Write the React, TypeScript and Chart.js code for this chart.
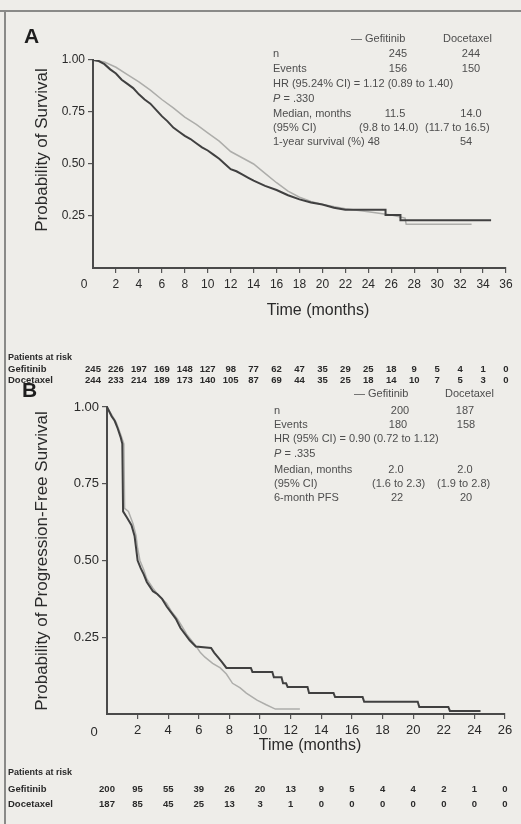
import React, { useEffect, useRef } from "react";
import { Chart, registerables } from "chart.js";
Chart.register(...registerables);

// ---------- Panel A: overall survival ----------
const OS_TICKS = [0, 2, 4, 6, 8, 10, 12, 14, 16, 18, 20, 22, 24, 26, 28, 30, 32, 34, 36];
const OS_GEF_T = [0, 0.5, 1.0, 1.5, 2.0, 2.5, 3.0, 3.5, 4.0, 4.5, 5.0, 5.5, 6.0, 6.5, 7.0, 7.5, 8.0, 8.5, 9.0, 9.5, 10.0, 10.5, 11.0, 11.5, 12.0, 12.5, 13.0, 13.5, 14.0, 15.0, 16.0, 17.0, 18.0, 19.0, 20.0, 21.0, 22.0, 25.5, 25.5, 26.8, 26.8, 34.7];
const OS_GEF_S = [1.0, 0.995, 0.98, 0.955, 0.935, 0.905, 0.885, 0.865, 0.835, 0.81, 0.79, 0.76, 0.73, 0.705, 0.675, 0.655, 0.635, 0.62, 0.6, 0.58, 0.565, 0.545, 0.525, 0.5, 0.475, 0.465, 0.45, 0.435, 0.42, 0.395, 0.375, 0.35, 0.33, 0.315, 0.305, 0.29, 0.28, 0.28, 0.255, 0.255, 0.23, 0.23];
const OS_DOC_T = [0, 1.0, 2.0, 3.0, 4.0, 5.0, 6.0, 7.0, 8.0, 9.0, 10.0, 11.0, 12.0, 13.0, 14.0, 15.0, 16.0, 17.0, 18.0, 19.0, 20.0, 22.0, 24.0, 26.0, 27.2, 27.3, 33.0];
const OS_DOC_S = [1.0, 0.99, 0.965, 0.93, 0.895, 0.855, 0.81, 0.77, 0.725, 0.69, 0.65, 0.61, 0.56, 0.53, 0.5, 0.455, 0.41, 0.37, 0.34, 0.32, 0.305, 0.285, 0.27, 0.255, 0.24, 0.21, 0.21];
const OS_RISK_GEF = [245, 226, 197, 169, 148, 127, 98, 77, 62, 47, 35, 29, 25, 18, 9, 5, 4, 1, 0];
const OS_RISK_DOC = [244, 233, 214, 189, 173, 140, 105, 87, 69, 44, 35, 25, 18, 14, 10, 7, 5, 3, 0];

// ---------- Panel B: progression-free survival ----------
const PFS_TICKS = [0, 2, 4, 6, 8, 10, 12, 14, 16, 18, 20, 22, 24, 26];
const PFS_GEF_T = [0, 0.3, 0.5, 0.7, 0.9, 1.0, 1.05, 1.3, 1.6, 1.8, 1.9, 2.0, 2.2, 2.4, 2.6, 2.8, 3.0, 3.3, 3.6, 3.9, 4.2, 4.5, 4.8, 5.1, 5.4, 5.8, 6.8, 7.0, 7.5, 7.8, 9.4, 9.5, 10.8, 10.9, 11.4, 11.5, 11.7, 11.8, 13.1, 13.2, 14.8, 14.9, 16.7, 16.8, 20.3, 20.4, 22.3, 22.4, 24.4];
const PFS_GEF_S = [1.0, 0.97, 0.955, 0.93, 0.9, 0.88, 0.66, 0.64, 0.615, 0.58, 0.54, 0.5, 0.475, 0.455, 0.43, 0.415, 0.4, 0.39, 0.375, 0.35, 0.33, 0.31, 0.28, 0.26, 0.24, 0.22, 0.215, 0.2, 0.17, 0.15, 0.15, 0.137, 0.137, 0.12, 0.12, 0.1, 0.1, 0.088, 0.088, 0.068, 0.068, 0.055, 0.055, 0.04, 0.04, 0.023, 0.023, 0.01, 0.01];
const PFS_DOC_T = [0, 0.3, 0.6, 0.9, 1.1, 1.15, 1.4, 1.7, 1.9, 2.0, 2.15, 2.4, 2.6, 3.0, 3.3, 3.6, 3.9, 4.2, 4.6, 4.9, 5.2, 5.6, 5.9, 6.1, 6.4, 6.9, 7.4, 7.8, 8.2, 8.7, 9.1, 9.8, 10.4, 11.0, 12.6];
const PFS_DOC_S = [1.0, 0.975, 0.95, 0.91, 0.88, 0.67, 0.66, 0.62, 0.58, 0.54, 0.5, 0.47, 0.44, 0.41, 0.39, 0.375, 0.36, 0.335, 0.31, 0.285, 0.26, 0.235, 0.215, 0.2, 0.185, 0.165, 0.15, 0.13, 0.1, 0.085, 0.068, 0.045, 0.03, 0.016, 0.016];
const PFS_RISK_GEF = [200, 95, 55, 39, 26, 20, 13, 9, 5, 4, 4, 2, 1, 0];
const PFS_RISK_DOC = [187, 85, 45, 25, 13, 3, 1, 0, 0, 0, 0, 0, 0, 0];

const SANS = '"Liberation Sans", Arial, Helvetica, sans-serif';
const NARROW = '"Liberation Sans Narrow", "Liberation Sans", Arial, sans-serif';
const BG = "#eeede9";
const DARK = "#404040";
const LIGHT = "#adadaa";

function pts(t: number[], s: number[]) {
  return t.map((x, i) => ({ x, y: s[i] }));
}

type PanelCfg = {
  padding: { left: number; right: number; top: number; bottom: number };
  xMax: number;
  ticks: number[];
  gef: { x: number; y: number }[];
  doc: { x: number; y: number }[];
  riskGef: number[];
  riskDoc: number[];
  riskY: [number, number];
  tickFont: number;
  yLabelW: number;
  xLabelH: number;
};

function makeChart(canvas: HTMLCanvasElement, c: PanelCfg) {
  const riskPlugin = {
    id: "riskTable",
    afterDraw(chart: any) {
      const ctx = chart.ctx;
      const xs = chart.scales.x;
      ctx.save();
      ctx.fillStyle = "#2a2a2a";
      ctx.font = `bold 9.5px ${NARROW}`;
      ctx.textAlign = "center";
      ctx.textBaseline = "middle";
      c.ticks.forEach((t, i) => {
        const px = xs.getPixelForValue(t);
        ctx.fillText(String(c.riskGef[i]), px, c.riskY[0]);
        ctx.fillText(String(c.riskDoc[i]), px, c.riskY[1]);
      });
      ctx.restore();
    },
  };
  const tickColor = (ctx: any) => (ctx.tick && ctx.tick.value === 0 ? "rgba(0,0,0,0)" : "#555");
  return new Chart(canvas, {
    type: "line",
    data: {
      datasets: [
        { label: "Gefitinib", data: c.gef, borderColor: DARK, borderWidth: 2, pointRadius: 0, fill: false, tension: 0 },
        { label: "Docetaxel", data: c.doc, borderColor: LIGHT, borderWidth: 1.5, pointRadius: 0, fill: false, tension: 0 },
      ],
    },
    options: {
      animation: false,
      responsive: false,
      maintainAspectRatio: false,
      layout: { padding: c.padding },
      plugins: { legend: { display: false }, tooltip: { enabled: false } },
      scales: {
        x: {
          type: "linear",
          min: 0,
          max: c.xMax,
          afterBuildTicks: (s: any) => {
            s.ticks = c.ticks.map((v) => ({ value: v }));
          },
          ticks: {
            color: "#2a2a2a",
            font: { family: SANS, size: c.tickFont },
            padding: 4,
            maxRotation: 0,
            autoSkip: false,
            callback: (v: any) => (Number(v) === 0 ? "" : String(v)),
          },
          grid: { drawOnChartArea: false, tickLength: 5, color: tickColor, lineWidth: 1.2 },
          border: { color: "#4a4a4a", width: 2 },
          afterFit: (s: any) => {
            s.height = c.xLabelH;
          },
        },
        y: {
          min: 0,
          max: 1,
          ticks: {
            stepSize: 0.25,
            color: "#2a2a2a",
            font: { family: SANS, size: c.tickFont },
            padding: 3,
            callback: (v: any) => (Number(v) === 0 ? "" : Number(v).toFixed(2)),
          },
          grid: { drawOnChartArea: false, tickLength: 5, color: tickColor, lineWidth: 1.2 },
          border: { color: "#4a4a4a", width: 2 },
          afterFit: (s: any) => {
            s.width = c.yLabelW;
          },
        },
      },
    },
    plugins: [riskPlugin],
  } as any);
}

function T(props: {
  x: number;
  y: number;
  size?: number;
  align?: "left" | "center" | "right";
  bold?: boolean;
  color?: string;
  font?: string;
  children: React.ReactNode;
}) {
  const { x, y, size = 11, align = "left", bold, color = "#4e4e4e", font = SANS, children } = props;
  const tx = align === "center" ? "-50%" : align === "right" ? "-100%" : "0";
  return (
    <div
      style={{
        position: "absolute",
        left: x,
        top: y,
        transform: `translate(${tx}, -50%)`,
        fontFamily: font,
        fontSize: size,
        fontWeight: bold ? 700 : 400,
        color,
        whiteSpace: "nowrap",
        lineHeight: 1,
      }}
    >
      {children}
    </div>
  );
}

function VTitle({ x, y, size, children }: { x: number; y: number; size: number; children: React.ReactNode }) {
  return (
    <div
      style={{
        position: "absolute",
        left: x,
        top: y,
        transform: "translate(-50%, -50%) rotate(-90deg)",
        fontFamily: SANS,
        fontSize: size,
        color: "#2a2a2a",
        whiteSpace: "nowrap",
        lineHeight: 1,
      }}
    >
      {children}
    </div>
  );
}

export default function App() {
  const refA = useRef<HTMLCanvasElement>(null);
  const refB = useRef<HTMLCanvasElement>(null);

  useEffect(() => {
    const a = makeChart(refA.current!, {
      padding: { left: 53, right: 15, top: 60, bottom: 102 },
      xMax: 36,
      ticks: OS_TICKS,
      gef: pts(OS_GEF_T, OS_GEF_S),
      doc: pts(OS_DOC_T, OS_DOC_S),
      riskGef: OS_RISK_GEF,
      riskDoc: OS_RISK_DOC,
      riskY: [369, 380],
      tickFont: 12,
      yLabelW: 40,
      xLabelH: 30,
    });
    const b = makeChart(refB.current!, {
      padding: { left: 67, right: 16, top: 27, bottom: 80 },
      xMax: 26,
      ticks: PFS_TICKS,
      gef: pts(PFS_GEF_T, PFS_GEF_S),
      doc: pts(PFS_DOC_T, PFS_DOC_S),
      riskGef: PFS_RISK_GEF,
      riskDoc: PFS_RISK_DOC,
      riskY: [409, 424],
      tickFont: 13,
      yLabelW: 40,
      xLabelH: 30,
    });
    return () => {
      a.destroy();
      b.destroy();
    };
  }, []);

  const colA = 398;
  const colB = 471;

  return (
    <div style={{ position: "fixed", left: 0, top: 0, width: 521, height: 824, background: BG, overflow: "hidden" }}>
      {/* frame */}
      <div style={{ position: "absolute", left: 0, top: 10, width: 521, height: 2, background: "#8a8a88" }} />
      <div style={{ position: "absolute", left: 4, top: 10, width: 2, height: 814, background: "#8a8a88" }} />

      <canvas ref={refA} width={521} height={400} style={{ position: "absolute", left: 0, top: 0 }} />
      <canvas ref={refB} width={521} height={444} style={{ position: "absolute", left: 0, top: 380 }} />

      {/* Panel A texts */}
      <T x={24} y={35} size={21} bold color="#1e1e1e">A</T>
      <VTitle x={41} y={150} size={17}>Probability of Survival</VTitle>
      <T x={84} y={284} size={12} align="center" color="#2a2a2a">0</T>
      <T x={318} y={310} size={16} align="center" color="#2a2a2a">Time (months)</T>
      <T x={8} y={357} size={9} bold font={NARROW} color="#2a2a2a">Patients at risk</T>
      <T x={8} y={369} size={9.5} bold font={NARROW} color="#2a2a2a">Gefitinib</T>
      <T x={8} y={380} size={9.5} bold font={NARROW} color="#2a2a2a">Docetaxel</T>

      <T x={351} y={38}>— Gefitinib</T>
      <T x={443} y={38}>Docetaxel</T>
      <T x={273} y={53}>n</T>
      <T x={colA} y={53} align="center">245</T>
      <T x={colB} y={53} align="center">244</T>
      <T x={273} y={68}>Events</T>
      <T x={colA} y={68} align="center">156</T>
      <T x={colB} y={68} align="center">150</T>
      <T x={273} y={83}>HR (95.24% CI) = 1.12 (0.89 to 1.40)</T>
      <T x={273} y={98}><i>P</i> = .330</T>
      <T x={273} y={113}>Median, months</T>
      <T x={395} y={113} align="center">11.5</T>
      <T x={colB} y={113} align="center">14.0</T>
      <T x={273} y={127}>(95% CI)</T>
      <T x={359} y={127}>(9.8 to 14.0)</T>
      <T x={425} y={127}>(11.7 to 16.5)</T>
      <T x={273} y={141}>1-year survival (%) 48</T>
      <T x={466} y={141} align="center">54</T>

      {/* Panel B texts */}
      <T x={22} y={389} size={21} bold color="#1e1e1e">B</T>
      <VTitle x={41} y={561} size={17}>Probability of Progression-Free Survival</VTitle>
      <T x={94} y={731} size={13} align="center" color="#2a2a2a">0</T>
      <T x={310} y={745} size={16} align="center" color="#2a2a2a">Time (months)</T>
      <T x={8} y={772} size={9} bold font={NARROW} color="#2a2a2a">Patients at risk</T>
      <T x={8} y={789} size={9.5} bold font={NARROW} color="#2a2a2a">Gefitinib</T>
      <T x={8} y={804} size={9.5} bold font={NARROW} color="#2a2a2a">Docetaxel</T>

      <T x={354} y={393}>— Gefitinib</T>
      <T x={445} y={393}>Docetaxel</T>
      <T x={274} y={410}>n</T>
      <T x={400} y={410} align="center">200</T>
      <T x={465} y={410} align="center">187</T>
      <T x={274} y={424}>Events</T>
      <T x={398} y={424} align="center">180</T>
      <T x={466} y={424} align="center">158</T>
      <T x={274} y={438}>HR (95% CI) = 0.90 (0.72 to 1.12)</T>
      <T x={274} y={453}><i>P</i> = .335</T>
      <T x={274} y={469}>Median, months</T>
      <T x={396} y={469} align="center">2.0</T>
      <T x={465} y={469} align="center">2.0</T>
      <T x={274} y={483}>(95% CI)</T>
      <T x={372} y={483}>(1.6 to 2.3)</T>
      <T x={437} y={483}>(1.9 to 2.8)</T>
      <T x={274} y={497}>6-month PFS</T>
      <T x={397} y={497} align="center">22</T>
      <T x={466} y={497} align="center">20</T>
    </div>
  );
}
